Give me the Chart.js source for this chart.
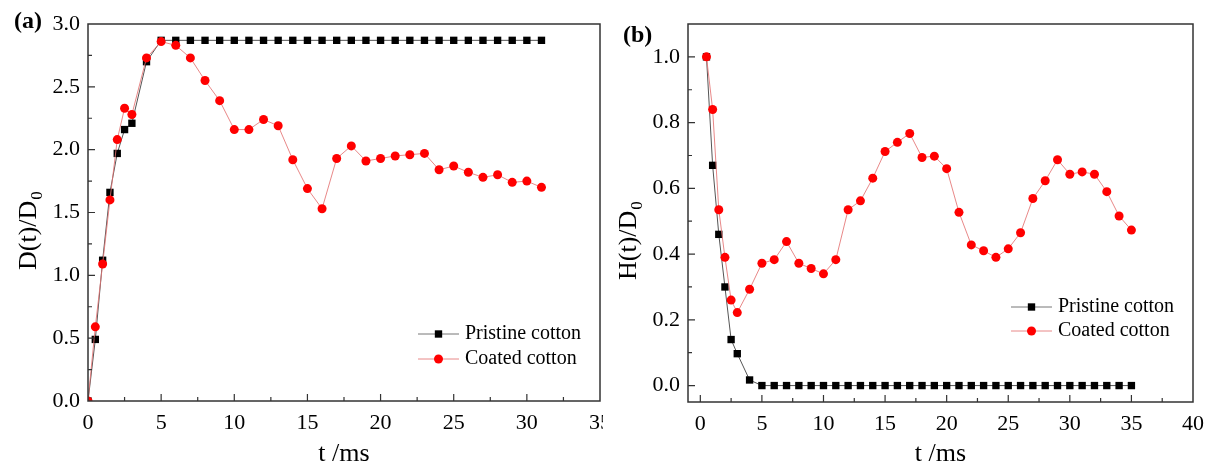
<!DOCTYPE html>
<html>
<head>
<meta charset="utf-8">
<script src="https://cdn.jsdelivr.net/npm/chart.js@4.4.1/dist/chart.umd.min.js"></script>
<style>
    html, body { margin: 0; padding: 0; background: #fff; }
    #wrap { position: relative; width: 1213px; height: 472px; overflow: hidden; }
    #boxA { position: absolute; left: 0; top: 0; width: 603px; height: 472px; overflow: hidden; }
    #boxB { position: absolute; left: 603px; top: 0; width: 610px; height: 472px; }
    canvas { display: block; }
</style>
</head>
<body>
<div id="wrap">
    <div id="boxA"><canvas id="chartA" width="640" height="472"></canvas></div>
    <div id="boxB"><canvas id="chartB" width="610" height="472"></canvas></div>
</div>
<script>
// ---- data ----
const timeA = [0, 0.5, 1, 1.5, 2, 2.5, 3, 4, 5, 6, 7, 8, 9, 10, 11, 12, 13, 14, 15, 16, 17, 18, 19, 20,
    21, 22, 23, 24, 25, 26, 27, 28, 29, 30, 31];
const pristineA = [0, 0.49, 1.12, 1.66, 1.97, 2.16, 2.21, 2.70, 2.87, 2.87, 2.87, 2.87, 2.87, 2.87, 2.87,
    2.87, 2.87, 2.87, 2.87, 2.87, 2.87, 2.87, 2.87, 2.87, 2.87, 2.87, 2.87, 2.87, 2.87, 2.87, 2.87, 2.87,
    2.87, 2.87, 2.87];
const coatedA = [0, 0.59, 1.09, 1.60, 2.08, 2.33, 2.28, 2.73, 2.86, 2.83, 2.73, 2.55, 2.39, 2.16, 2.16,
    2.24, 2.19, 1.92, 1.69, 1.53, 1.93, 2.03, 1.91, 1.93, 1.95, 1.96, 1.97, 1.84, 1.87, 1.82, 1.78, 1.80,
    1.74, 1.75, 1.70];

const timeB = [0.5, 1, 1.5, 2, 2.5, 3, 4, 5, 6, 7, 8, 9, 10, 11, 12, 13, 14, 15, 16, 17, 18, 19, 20,
    21, 22, 23, 24, 25, 26, 27, 28, 29, 30, 31, 32, 33, 34, 35];
const pristineB = [1.0, 0.67, 0.46, 0.30, 0.14, 0.097, 0.017, 0, 0, 0, 0, 0, 0, 0, 0, 0, 0, 0, 0, 0,
    0, 0, 0, 0, 0, 0, 0, 0, 0, 0, 0, 0, 0, 0, 0, 0, 0, 0];
const coatedB = [1.0, 0.84, 0.535, 0.39, 0.26, 0.222, 0.293, 0.372, 0.383, 0.438, 0.372, 0.356, 0.34,
    0.383, 0.535, 0.562, 0.631, 0.712, 0.74, 0.767, 0.694, 0.698, 0.66, 0.527, 0.428, 0.41, 0.39, 0.416,
    0.465, 0.569, 0.623, 0.687, 0.643, 0.65, 0.643, 0.59, 0.516, 0.473];

const xTicksA = [0, 5, 10, 15, 20, 25, 30, 35];
const yTicksA = [0, 0.5, 1.0, 1.5, 2.0, 2.5, 3.0];
const xTicksB = [0, 5, 10, 15, 20, 25, 30, 35, 40];
const yTicksB = [0, 0.2, 0.4, 0.6, 0.8, 1.0];

const seriesNames = ['Pristine cotton', 'Coated cotton'];

// ---- drawing ----
const SERIF = "'Liberation Serif', 'Times New Roman', 'DejaVu Serif', serif";
Chart.defaults.font.family = SERIF;
Chart.defaults.color = '#000';

const RED_LINE = 'rgba(228,115,115,0.85)';

const toPoints = (xs, ys) => xs.map((x, i) => ({ x, y: ys[i] }));

const makeDatasets = (xs, black, red) => [
    {
        label: seriesNames[0],
        data: toPoints(xs, black),
        borderColor: '#555',
        borderWidth: 1,
        pointStyle: 'rect',
        pointRadius: 5.2,
        pointBackgroundColor: '#000',
        pointBorderColor: '#000',
        pointBorderWidth: 0,
        order: 1
    },
    {
        label: seriesNames[1],
        data: toPoints(xs, red),
        borderColor: RED_LINE,
        borderWidth: 1,
        pointStyle: 'circle',
        pointRadius: 4.5,
        pointBackgroundColor: '#ff0000',
        pointBorderColor: '#ff0000',
        pointBorderWidth: 0,
        order: 0
    }
];

// frame, inward ticks, titles, legend and panel letter
const originStyle = {
    id: 'originStyle',
    afterDraw(chart, args, o) {
        const { ctx, chartArea: a, scales: { x, y } } = chart;
        ctx.save();
        ctx.strokeStyle = '#333';
        ctx.lineWidth = 1.5;
        ctx.strokeRect(a.left, a.top, a.right - a.left, a.bottom - a.top);

        ctx.lineWidth = 1.2;
        ctx.beginPath();
        o.xTicks.forEach((v, i) => {
            const px = x.getPixelForValue(v);
            if (px > a.left + 1 && px < a.right - 1) {
                ctx.moveTo(px, a.bottom); ctx.lineTo(px, a.bottom - 7);
            }
            if (i < o.xTicks.length - 1) {
                const mx = x.getPixelForValue((v + o.xTicks[i + 1]) / 2);
                if (mx < a.right - 1) { ctx.moveTo(mx, a.bottom); ctx.lineTo(mx, a.bottom - 4); }
            }
        });
        o.yTicks.forEach((v, i) => {
            const py = y.getPixelForValue(v);
            if (py > a.top + 1 && py < a.bottom - 1) {
                ctx.moveTo(a.left, py); ctx.lineTo(a.left + 7, py);
            }
            if (i < o.yTicks.length - 1) {
                const my = y.getPixelForValue((v + o.yTicks[i + 1]) / 2);
                ctx.moveTo(a.left, my); ctx.lineTo(a.left + 4, my);
            }
        });
        ctx.stroke();

        ctx.fillStyle = '#000';
        // x title
        ctx.font = `26px ${SERIF}`;
        ctx.textAlign = 'center';
        ctx.textBaseline = 'alphabetic';
        ctx.fillText('t /ms', (a.left + a.right) / 2, 461);

        // y title with subscript
        ctx.save();
        ctx.translate(o.yTitle.x, o.yTitle.y);
        ctx.rotate(-Math.PI / 2);
        ctx.textAlign = 'left';
        ctx.font = `26px ${SERIF}`;
        ctx.fillText(o.yTitle.text, 0, 0);
        const w = ctx.measureText(o.yTitle.text).width;
        ctx.font = `17px ${SERIF}`;
        ctx.fillText(o.yTitle.sub, w + 1, 6);
        ctx.restore();

        // panel letter
        ctx.font = `bold 24px ${SERIF}`;
        ctx.textAlign = 'left';
        ctx.fillText(o.panel.text, o.panel.x, o.panel.y);

        // legend
        ctx.font = `20px ${SERIF}`;
        ctx.textBaseline = 'middle';
        chart.data.datasets.forEach((ds, i) => {
            const ly = a.bottom - o.legend.rows[i];
            const x1 = a.right - 182, x2 = a.right - 141, mx = (x1 + x2) / 2;
            ctx.strokeStyle = i === 0 ? '#777' : RED_LINE;
            ctx.lineWidth = 1;
            ctx.beginPath(); ctx.moveTo(x1, ly); ctx.lineTo(x2, ly); ctx.stroke();
            ctx.fillStyle = ds.pointBackgroundColor;
            if (ds.pointStyle === 'rect') {
                const s = ds.pointRadius * Math.SQRT1_2;
                ctx.fillRect(mx - s, ly - s, 2 * s, 2 * s);
            } else {
                ctx.beginPath(); ctx.arc(mx, ly, ds.pointRadius, 0, Math.PI * 2); ctx.fill();
            }
            ctx.fillStyle = '#000';
            ctx.fillText(ds.label, a.right - 135, ly);
        });
        ctx.restore();
    }
};

const buildChart = (id, cfg) => new Chart(document.getElementById(id), {
    type: 'line',
    data: { datasets: cfg.datasets },
    options: {
        responsive: false,
        animation: false,
        layout: { padding: { top: 24, right: cfg.padRight, left: 0, bottom: 0 } },
        plugins: {
            legend: { display: false },
            tooltip: { enabled: false },
            originStyle: cfg.style
        },
        scales: {
            x: {
                type: 'linear',
                min: cfg.xMin, max: cfg.xMax,
                afterBuildTicks: (s) => { s.ticks = cfg.style.xTicks.map((v) => ({ value: v })); },
                afterFit: (s) => { s.height = cfg.xHeight; },
                grid: { display: false, drawTicks: false },
                border: { display: false },
                ticks: { font: { size: 22 }, padding: 9, maxRotation: 0, autoSkip: false,
                    callback: (v) => String(v) }
            },
            y: {
                type: 'linear',
                min: cfg.yMin, max: cfg.yMax,
                afterBuildTicks: (s) => { s.ticks = cfg.style.yTicks.map((v) => ({ value: v })); },
                afterFit: (s) => { s.width = cfg.yWidth; },
                grid: { display: false, drawTicks: false },
                border: { display: false },
                ticks: { font: { size: 22 }, padding: 8, autoSkip: false,
                    callback: (v) => Number(v).toFixed(1) }
            }
        }
    },
    plugins: [originStyle]
});

buildChart('chartA', {
    datasets: makeDatasets(timeA, pristineA, coatedA),
    xMin: 0, xMax: 35, yMin: 0, yMax: 3,
    yWidth: 88, xHeight: 71, padRight: 40,
    style: {
        xTicks: xTicksA, yTicks: yTicksA,
        yTitle: { x: 36, y: 270, text: 'D(t)/D', sub: '0' },
        panel: { text: '(a)', x: 14, y: 28 },
        legend: { rows: [67, 42] }
    }
});

buildChart('chartB', {
    datasets: makeDatasets(timeB, pristineB, coatedB),
    xMin: -1, xMax: 40, yMin: -0.05, yMax: 1.1,
    yWidth: 85, xHeight: 70, padRight: 12,
    style: {
        xTicks: xTicksB, yTicks: yTicksB,
        yTitle: { x: 33, y: 280, text: 'H(t)/D', sub: '0' },
        panel: { text: '(b)', x: 20, y: 42 },
        legend: { rows: [95, 71] }
    }
});
</script>
</body>
</html>
